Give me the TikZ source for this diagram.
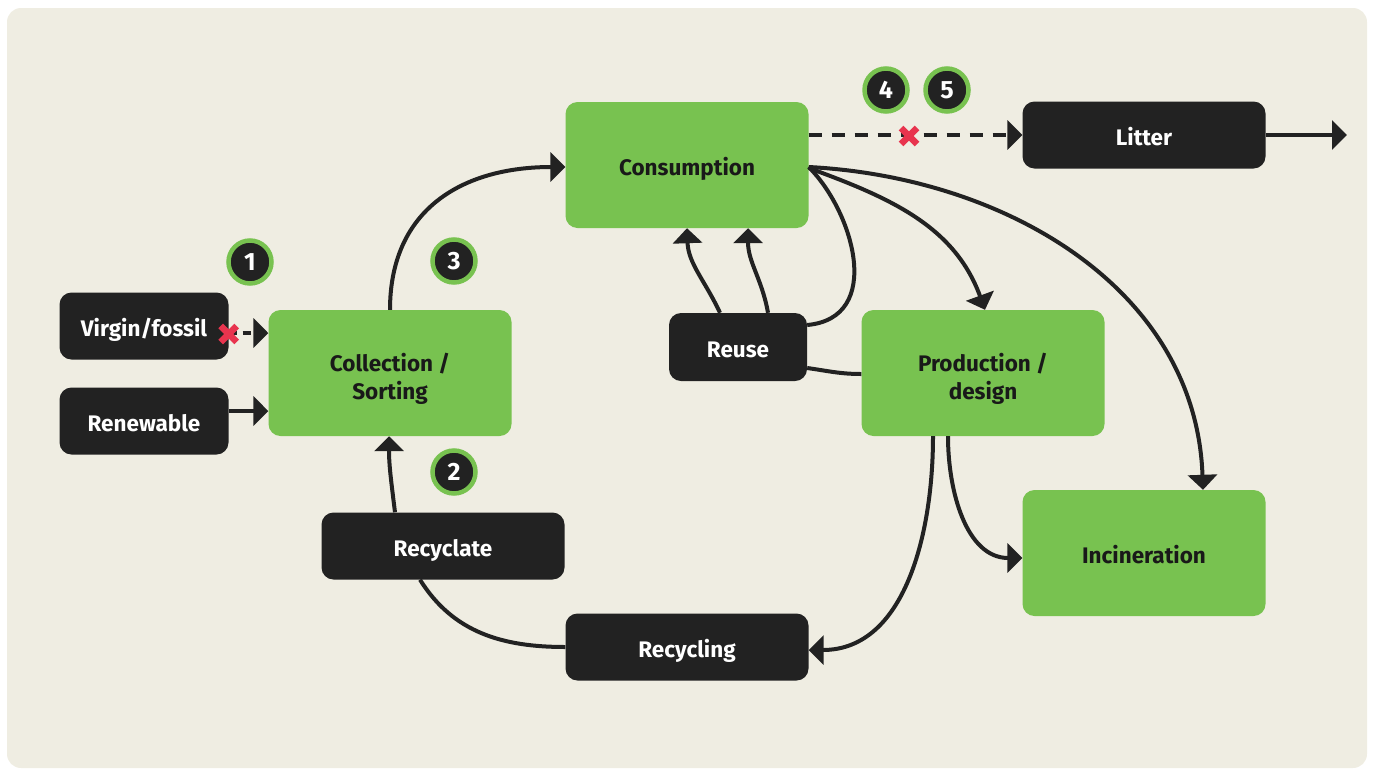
\documentclass[tikz,border=0pt]{standalone}
\usepackage{fontspec}
\setmainfont{Fira Sans}
\usetikzlibrary{arrows.meta}
\definecolor{bgc}{HTML}{EFEDE2}
\definecolor{grn}{HTML}{78C250}
\definecolor{drk}{HTML}{222222}
\definecolor{rdx}{HTML}{E8344E}
\tikzset{
  box/.style={rectangle, rounded corners=12pt, inner sep=0pt, align=center,
    font=\fontsize{22.5}{28}\selectfont\bfseries, text height=20.5pt, text depth=0pt},
  twoline/.style={text height=52pt, text depth=0pt},
  darkbox/.style={box, fill=drk, text=white},
  greenbox/.style={box, fill=grn, text=black!90},
  conn/.style={draw=drk, line width=4pt},
  arr/.style={conn, -{Triangle[length=15pt,width=29pt]}},
  dashline/.style={dash pattern=on 13pt off 10pt},
  numc/.style={circle, fill=drk, draw=grn, line width=4.5pt, minimum size=43pt,
    inner sep=0pt, text=white, font=\fontsize{25}{25}\selectfont\bfseries},
}
\newcommand{\redx}[1]{%
  \draw[rdx, line width=6.5pt] ([shift={(-8pt,-8pt)}]#1) -- ([shift={(8pt,8pt)}]#1);
  \draw[rdx, line width=6.5pt] ([shift={(-8pt,8pt)}]#1) -- ([shift={(8pt,-8pt)}]#1);}
\begin{document}
\begin{tikzpicture}[x=1pt,y=1pt]
\useasboundingbox (0,0) rectangle (1375,-769);
\fill[bgc] (7,-8) [rounded corners=14pt] rectangle (1367,-768);

% nodes
\node[darkbox, minimum width=169pt, minimum height=67pt] (virgin) at (144,-326) {Virgin/fossil};
\node[darkbox, minimum width=169pt, minimum height=67pt] (renew) at (144,-421) {Renewable};
\node[greenbox, twoline, minimum width=243pt, minimum height=126pt] (collect) at (390,-373) {Collection /\\Sorting};
\node[greenbox, minimum width=243pt, minimum height=126pt] (cons) at (687,-165) {Consumption};
\node[darkbox, minimum width=243pt, minimum height=67pt] (litter) at (1144,-135) {Litter};
\node[darkbox, minimum width=138pt, minimum height=68pt] (reuse) at (738,-347) {Reuse};
\node[greenbox, twoline, minimum width=243pt, minimum height=126pt] (prod) at (983,-373) {Production /\\design};
\node[greenbox, minimum width=243pt, minimum height=126pt] (incin) at (1144,-553) {Incineration};
\node[darkbox, minimum width=243pt, minimum height=67pt] (recyc) at (443,-546) {Recyclate};
\node[darkbox, minimum width=243pt, minimum height=67pt] (recyl) at (687,-647) {Recycling};
\coordinate (out) at (1347,-135);

% number badges
\node[numc] (n1) at (250,-262) {1};
\node[numc] (n2) at (454,-472) {2};
\node[numc] (n3) at (454,-261) {3};
\node[numc] (n4) at (886,-90) {4};
\node[numc] (n5) at (947,-90) {5};

% connectors
\draw[arr, dash pattern=on 8pt off 6pt] ([yshift=-7pt]virgin.east) -- ([yshift=-7pt]virgin.east -| collect.west);
\draw[arr] ([yshift=10pt]renew.east) -- ([yshift=10pt]renew.east -| collect.west);
\draw[arr] (collect.north) to[out=90,in=180,looseness=1.15] ([yshift=-2pt]cons.west);
\draw[arr] ([xshift=-48pt]recyc.north) to[out=97,in=-90] ([xshift=-1pt]collect.south);
\draw[conn] (recyl.west) to[out=180,in=-58] ([xshift=-23pt]recyc.south);
\draw[arr] ([xshift=-50pt]prod.south) to[out=-90,in=0] ([yshift=-3pt]recyl.east);
\draw[arr] ([xshift=-35pt]prod.south) to[out=-90,in=180] ([yshift=-5pt]incin.west);
\draw[arr] ([yshift=-2pt]cons.east) to[out=-3,in=92] ([xshift=59pt]incin.north);
\draw[arr] ([yshift=-3pt]cons.east) to[out=-20,in=110] ([xshift=2pt]prod.north);
\draw[conn] ([yshift=-2pt]cons.east) .. controls +(45,-45) and +(77,7) .. ([yshift=22pt]reuse.east);
\draw[arr] ([xshift=-18pt]reuse.north) to[out=115,in=-88] (cons.south);
\draw[arr] ([xshift=30pt]reuse.north) to[out=100,in=-90] ([xshift=61pt]cons.south);
\draw[conn] ([yshift=-21pt]reuse.east) to[out=-8,in=180] ([yshift=-1pt]prod.west);
\draw[arr, dashline] ([yshift=30pt]cons.east) -- (litter.west);
\draw[arr] (litter.east) -- (out);

% red crosses
\coordinate (x1) at ([yshift=-8pt]virgin.east);
\redx{x1}
\coordinate (x2) at (909,-136);
\redx{x2}
\end{tikzpicture}
\end{document}
